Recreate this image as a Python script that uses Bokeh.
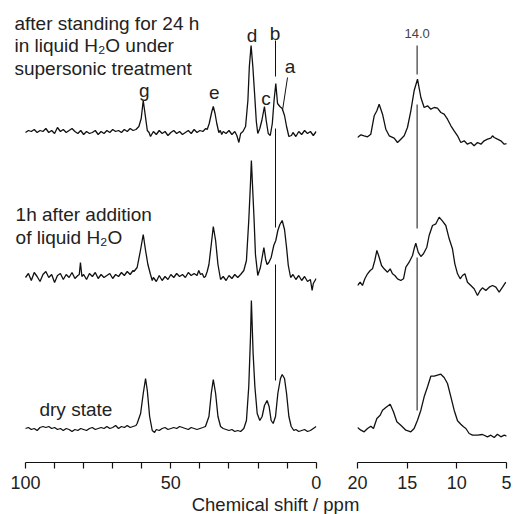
from bokeh.plotting import figure
from bokeh.models import Range1d, Label, FixedTicker
from bokeh.layouts import row, column
from bokeh.embed import file_html
from bokeh.resources import INLINE

FONT = "Liberation Sans"
TEXT_COLOR = "#222222"
LINE_COLOR = "#111111"

# ---------------- data (ppm, intensity above the trace's own baseline) ----------------
TOP_LEFT = [(100,1),(99,3),(98,2),(97,4),(96,1),(95,3),(94,2),(93,5),(92,1),(91,3),(90,0),(89,6),
            (88,2),(87,4),(86,1),(85,3),(84,5),(83,2),(82,0),(81,3),(80,-1),(79,2),(78,0),(77,1),
            (76,3),(75,-1),(74,2),(73,0),(72,3),(71,1),(70,4),(69,2),(68,3),(67,1),(66,4),(65,2),
            (64,5),(63,3),(62,4),(61.0,7),(60.2,15),(59.5,33),(58.8,18),(58.1,3),(57.5,1),(57,-3),
            (56,2),(55,-1),(54,3),(53,0),(52,2),(51,-2),(50,1),(49,3),(48,0),(47,2),(46,-1),(45,1),
            (44,3),(43,0),(42,4),(41,1),(40,3),(39,2),(38,5),(37.5,4),(36.8,10),(35.9,22),(35.4,27),
            (34.8,20),(34.2,10),(33.5,1),(33,3),(32.5,-1),(32,2),(31,0),(30,3),(29,-1),(28,2),
            (27.3,-2),(26.6,-9),(26,0),(25.2,2),(24.3,7),(23.5,33),(23.0,67),(22.4,88),(21.8,67),
            (21.2,40),(20.6,12),(20.1,0),(19.4,5),(18.7,13),(17.8,27),(17.2,13),(16.5,0),(15.8,-2),
            (15.1,10),(14.5,33),(13.9,50),(13.3,30),(12.5,27),(11.7,25),(10.9,18),(10.2,7),(9.4,-3),
            (8.5,-2),(8,1),(7,-3),(6,2),(5,-1),(4,3),(3,0),(2,2),(1,-2),(0,2)]

MID_LEFT = [(100,0),(99,4),(98,-3),(97,5),(96,1),(95,-4),(94,3),(93,6),(92,0),(91,3),(90,-5),(89,2),
            (88,4),(87,-2),(86,3),(85,0),(84,5),(83,-1),(82,2),(81.5,3),(81.1,15),(80.6,1),(80,3),
            (79,-2),(78,4),(77,1),(76,5),(75,-1),(74,3),(73,0),(72,2),(71,4),(70,-1),(69,3),(68,1),
            (67,5),(66,2),(65,6),(64,3),(63,7),(62.7,6),(61.6,10),(60.4,28),(59.5,43),(58.7,27),
            (57.9,13),(57.0,3),(56.4,-3),(56,0),(55,-4),(54,2),(53,-3),(52,1),(51,-2),(50,3),(49,0),
            (48,4),(47,1),(46,3),(45,0),(44,5),(43,2),(42,4),(41,2),(40.4,7),(39.8,3),(39.2,4),
            (38.6,0),(38.1,1),(37.5,6),(36.9,13),(36.1,33),(35.4,51),(34.6,37),(33.8,13),(32.9,-2),
            (32,1),(31,-3),(30,2),(29,-1),(28,3),(27,0),(26,3),(24.9,7),(24.0,17),(23.2,57),
            (22.6,95),(22.3,117),(21.8,85),(21.4,60),(20.9,23),(20.1,2),(19.2,10),(18.6,20),
            (18.0,30),(17.4,18),(16.9,13),(16.3,15),(15.5,20),(14.6,32),(13.9,37),(13.2,47),
            (12.5,53),(11.7,57),(10.9,48),(10.2,30),(9.6,12),(8.8,0),(8,3),(7,-2),(6,2),(5,-3),
            (4,1),(3,-4),(2,-2),(1.4,-13),(1,-6),(0,-1)]

BOTTOM_LEFT = [(100,0),(99,1),(98,-1),(97,0),(96,-2),(95,1),(94,2),(93,1),(92,2),(91,0),(90,1),
               (89,-1),(88,0),(87,-2),(86,0),(85,-1),(84,-3),(83,-1),(82,-2),(81,0),(80,-1),(79,-2),
               (78,0),(77,1),(76,-1),(75,0),(74,1),(73,0),(72,2),(71,0),(70,1),(69,3),(68,0),(67,2),
               (66,1),(65,3),(64,1),(63,2),(62,3),(61.6,5),(60.4,15),(59.5,35),(58.7,50),(58.1,38),
               (57.3,12),(56.4,-2),(55.6,-4),(55,-1),(54,-2),(53,0),(52,1),(51,-1),(50,0),(49,1),
               (48,0),(47,2),(46,1),(45,0),(44,-1),(43,1),(42,0),(41,-1),(40,0),(39,1),(38.1,2),
               (36.9,12),(36.1,35),(35.4,49),(34.6,35),(33.8,12),(32.9,2),(32,0),(31,-1),(30,-2),
               (29,-1),(28,-3),(27,-2),(26,-3),(24.9,0),(24.0,8),(23.2,42),(22.6,92),(22.3,128),
               (21.7,75),(21.1,42),(20.3,15),(19.4,8),(18.6,12),(17.8,23),(16.9,28),(16.2,22),
               (15.5,8),(14.8,5),(14.0,12),(13.2,35),(12.3,50),(11.7,54),(10.9,50),(10.2,35),
               (9.4,12),(8.6,2),(7.7,-2),(7,-1),(6,-3),(5,-2),(4,-1),(3,-3),(2,-2),(1,0),(0,2)]

TOP_RIGHT = [(20.0,0),(19.66,2.7),(19.33,1.7),(18.99,0.7),(18.66,3.3),(18.32,21.7),(18.05,26.7),
             (17.82,33.3),(17.48,23.3),(17.15,8.3),(16.81,1.7),(16.31,-0.7),(15.97,-5),(15.64,-1.7),
             (15.30,1.7),(14.97,10),(14.63,26.7),(14.30,46.7),(13.96,58.3),(13.62,40),(13.29,30),
             (12.95,31.7),(12.62,28.3),(12.28,30),(11.95,29.3),(11.61,25),(11.28,23.3),(10.94,18.3),
             (10.60,11.7),(10.27,6.7),(9.93,1.7),(9.60,-5),(9.26,-3.3),(8.93,-6.7),(8.59,-5),
             (8.26,-8.3),(7.92,-5),(7.58,-6.7),(7.25,-3.3),(6.91,-1.7),(6.58,-0.7),(6.41,1.7),
             (6.24,0),(5.91,-1.7),(5.57,-3.3),(5.23,-6.7),(4.90,-6)]

MID_RIGHT = [(20.0,0),(19.73,3.3),(19.50,0),(19.26,6.7),(18.99,11.7),(18.72,15),(18.49,16.7),
             (18.26,25),(18.05,35),(17.82,28.3),(17.58,20),(17.32,16.7),(16.98,13.3),(16.71,16.7),
             (16.48,11.7),(16.24,10),(15.97,6.7),(15.64,5),(15.37,6.7),(15.13,18.3),(14.80,23.3),
             (14.46,30),(14.30,36.7),(14.13,42.3),(13.89,33.3),(13.62,29),(13.36,31.7),(13.02,38.3),
             (12.79,50),(12.45,60),(12.11,61.7),(11.78,68.3),(11.44,64.3),(11.11,60),(10.77,46.7),
             (10.44,36.7),(10.20,21.7),(9.93,11.7),(9.66,6.7),(9.43,10),(9.19,11.7),(8.93,3.3),
             (8.59,0),(8.26,-3.3),(7.92,-10),(7.65,-5),(7.42,-2.3),(7.08,-5),(6.74,-1.7),(6.41,0),
             (6.07,-1.7),(5.74,-6.7),(5.40,-1.7),(5.07,3.3)]

BOTTOM_RIGHT = [(20.0,1),(19.66,-1.7),(19.33,-3.3),(18.99,0),(18.66,2.3),(18.39,0),(18.05,10),
                (17.72,13.3),(17.48,18.3),(17.15,21),(16.71,24.3),(16.38,16.7),(16.04,6.7),
                (15.64,3.3),(15.13,-1.7),(14.63,-3.3),(14.30,0),(13.96,8.3),(13.62,18.3),
                (13.29,31.7),(12.95,41.7),(12.62,52.3),(12.28,52.3),(11.95,53.3),(11.61,54.3),
                (11.28,51),(10.94,45),(10.60,31.7),(10.27,18.3),(9.93,7.7),(9.60,4.3),(9.33,1.7),
                (9.09,0),(8.76,-5),(8.42,-6.7),(7.92,-6.7),(7.42,-6),(6.91,-8.3),(6.58,-6.7),
                (6.24,-9),(5.91,-5.7),(5.57,-8.3),(5.23,-6.7),(4.97,-7.7)]

LEFT_TICKS = [0, 50, 100]
LEFT_MINOR_TICKS = [10, 20, 30, 40, 60, 70, 80, 90]
RIGHT_TICKS = [5, 10, 15, 20]

PEAK_LABELS = ["g", "e", "d", "c", "b", "a"]
REFERENCE_SHIFT = 14.0

# ---------------- layout constants ----------------
FRAME_H = 462
LEFT_BASES = [330, 186, 35]     # vertical offsets of the three left traces
RIGHT_BASES = [326, 178, 35]    # vertical offsets of the three right traces
BASELINE_FIX = 0.32             # label drawn lower than its alphabetic anchor by ~0.32 em


def style_axis(p, ticks, minor, bounds):
    ax = p.xaxis[0]
    ax.ticker = FixedTicker(ticks=ticks, minor_ticks=minor)
    ax.bounds = bounds
    ax.axis_line_color = LINE_COLOR
    ax.axis_line_width = 1.2
    ax.major_tick_line_color = LINE_COLOR
    ax.minor_tick_line_color = LINE_COLOR
    ax.major_tick_line_width = 1.2
    ax.minor_tick_line_width = 1.2
    ax.major_tick_in = 0
    ax.major_tick_out = 6
    ax.minor_tick_in = 0
    ax.minor_tick_out = 6
    ax.major_label_standoff = 7
    ax.major_label_text_font = FONT
    ax.major_label_text_font_size = "18px"
    ax.major_label_text_color = TEXT_COLOR


def add_trace(p, pairs, base):
    xs = [a for a, _ in pairs]
    ys = [b + base for _, b in pairs]
    p.line(xs, ys, line_color=LINE_COLOR, line_width=1.3)


def txt(p, x, y, s, size=19, align="left", color=TEXT_COLOR):
    p.add_layout(Label(x=x, y=y + BASELINE_FIX * size, text=s, text_font=FONT,
                       text_font_size="%gpx" % size, text_color=color,
                       text_align=align, text_baseline="alphabetic"))


# ---------------- left panel ----------------
p1 = figure(frame_width=316, frame_height=FRAME_H, x_range=Range1d(108.6, -0.1),
            y_range=Range1d(1, 463), min_border_left=0, min_border_right=14,
            min_border_top=0, min_border_bottom=33, y_axis_location=None,
            toolbar_location=None, output_backend="svg")
p1.grid.visible = False
p1.outline_line_color = None
style_axis(p1, LEFT_TICKS, LEFT_MINOR_TICKS, (0, 100))

for pairs, base in zip([TOP_LEFT, MID_LEFT, BOTTOM_LEFT], LEFT_BASES):
    add_trace(p1, pairs, base)

# reference line at 14.0 ppm (broken where it meets the traces)
for y0, y1 in [(423, 387), (335, 236), (199, 83)]:
    p1.line([REFERENCE_SHIFT, REFERENCE_SHIFT], [y0, y1], line_color=LINE_COLOR, line_width=1)
# leader line of label "a"
p1.line([9.87, 11.6], [386, 353], line_color=LINE_COLOR, line_width=1)

label_pos = [(59.1, 367), (35.1, 364.5), (22.1, 421.5), (17.3, 359), (14.2, 424), (9.0, 391)]
for s, (x, y) in zip(PEAK_LABELS, label_pos):
    txt(p1, x, y, s, align="center")

txt(p1, 103.8, 434, "after standing for 24 h")
txt(p1, 103.8, 411.5, "in liquid H\u2082O under")
txt(p1, 103.8, 389, "supersonic treatment")
txt(p1, 103.4, 243, "1h after addition")
txt(p1, 103.4, 220, "of liquid H\u2082O")
txt(p1, 95.2, 48, "dry state")

# ---------------- right panel ----------------
p2 = figure(frame_width=149, frame_height=FRAME_H, x_range=Range1d(20, 5),
            y_range=Range1d(1, 463), min_border_left=27, min_border_right=7,
            min_border_top=0, min_border_bottom=33, y_axis_location=None,
            toolbar_location=None, output_backend="svg")
p2.grid.visible = False
p2.outline_line_color = None
style_axis(p2, RIGHT_TICKS, [], (5, 20))

for pairs, base in zip([TOP_RIGHT, MID_RIGHT, BOTTOM_RIGHT], RIGHT_BASES):
    add_trace(p2, pairs, base)

for y0, y1 in [(418, 389), (359, 235), (206, 53)]:
    p2.line([REFERENCE_SHIFT, REFERENCE_SHIFT], [y0, y1], line_color=LINE_COLOR, line_width=1)
txt(p2, REFERENCE_SHIFT, 425.5, "%.1f" % REFERENCE_SHIFT, size=13, align="center", color="#444444")

# ---------------- shared x label ----------------
p3 = figure(width=513, height=19, x_range=Range1d(0, 513), y_range=Range1d(0, 19),
            min_border=0, x_axis_location=None, y_axis_location=None,
            toolbar_location=None, output_backend="svg")
p3.grid.visible = False
p3.outline_line_color = None
txt(p3, 275, 4, "Chemical shift / ppm", size=18.5, align="center")

layout = column(row(p1, p2), p3)
open("out.html", "w").write(file_html(layout, INLINE))
